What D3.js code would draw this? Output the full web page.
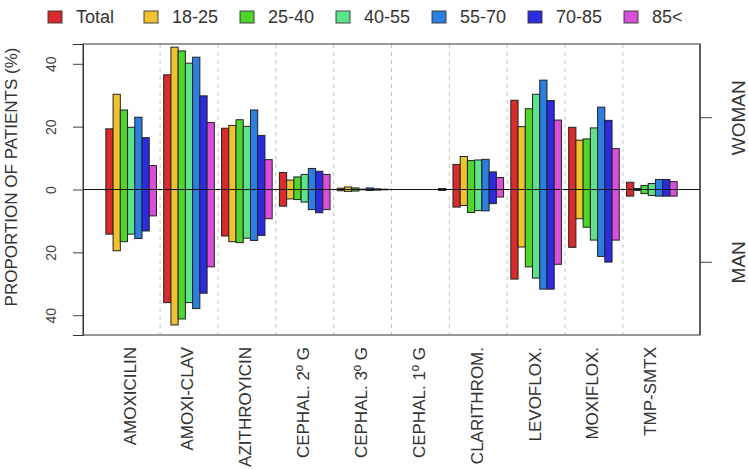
<!DOCTYPE html>
<html>
<head>
<meta charset="utf-8">
<script src="https://cdn.jsdelivr.net/npm/d3@7"></script>
<style>
  body { margin: 0; background: #fff; }
  svg { display: block; font-family: "Liberation Sans", Arial, sans-serif; }
</style>
</head>
<body>
<svg id="chart" width="748" height="470"></svg>
<script>
// ---- data ----
const drugs = ["AMOXICILIN", "AMOXI-CLAV", "AZITHROYICIN", "CEPHAL. 2º G", "CEPHAL. 3º G",
               "CEPHAL. 1º G", "CLARITHROM.", "LEVOFLOX.", "MOXIFLOX.", "TMP-SMTX"];
const ageGroups = ["Total", "18-25", "25-40", "40-55", "55-70", "70-85", "85<"];
const colors = ["#d92b2b", "#f2c12e", "#4fd62b", "#5ce38c", "#2b7fe0", "#2b2be0", "#d94fd9"];

// women (upper half), one array per age group, values per drug
const womanTotal = [19.3, 36.5, 19.5, 5.4, 0.4, 0, 8.0, 28.4, 19.8, 2.3];
const woman1825  = [30.3, 45.3, 20.4, 3.0, 0.8, 0, 10.5, 20.0, 15.7, 0.3];
const woman2540  = [25.3, 44.1, 22.2, 4.0, 0.5, 0, 9.2, 25.7, 16.1, 1.3];
const woman4055  = [19.8, 40.2, 20.1, 4.8, 0.1, 0, 9.4, 30.3, 19.6, 1.9];
const woman5570  = [23.0, 42.1, 25.3, 6.7, 0.5, 0, 9.6, 34.8, 26.2, 3.2];
const woman7085  = [16.5, 29.8, 17.2, 5.8, 0.2, 0, 5.6, 28.3, 22.0, 3.2];
const woman85    = [7.6, 21.3, 9.5, 4.8, 0.1, 0.3, 3.8, 22.1, 13.0, 2.5];
// men (lower half)
const manTotal = [14.2, 36.0, 14.8, 5.3, 0.4, 0, 5.6, 28.5, 18.4, 2.1];
const man1825  = [19.5, 43.1, 16.6, 3.0, 0.6, 0, 5.1, 18.3, 9.3, 0.3];
const man2540  = [16.6, 41.2, 16.9, 3.2, 0.5, 0, 7.3, 24.6, 12.0, 1.3];
const man4055  = [14.2, 36.0, 15.5, 4.0, 0.1, 0, 6.7, 28.2, 16.1, 1.9];
const man5570  = [15.6, 37.9, 16.2, 6.4, 0.3, 0, 6.8, 31.7, 21.3, 2.1];
const man7085  = [13.2, 33.0, 14.6, 7.4, 0.2, 0, 4.5, 31.7, 23.1, 2.1];
const man85    = [8.4, 24.6, 9.3, 6.4, 0.1, 0.3, 2.4, 23.8, 16.1, 2.1];

const yTicks = [-40, -20, 0, 20, 40];
const sideTicks = [23, -23];
const sideLabels = ["WOMAN", "MAN"];

const womanSeries = [womanTotal, woman1825, woman2540, woman4055, woman5570, woman7085, woman85];
const manSeries = [manTotal, man1825, man2540, man4055, man5570, man7085, man85];

// ---- layout ----
const svg = d3.select("#chart");
const L = 83, R = 700, T = 44, B = 335;
const nGroups = drugs.length, nBars = ageGroups.length;
const total = nGroups * (nBars + 1); // units incl. one space per group
const ext = (total - 1) * 0.04;
const x = d3.scaleLinear().domain([1 - ext, total + ext]).range([L, R]);
const y = d3.scaleLinear().domain([-46.3, 46.3]).range([B, T]);
function g0(g) { return g * (nBars + 1); }

// group separators
const seps = d3.range(nGroups - 1).map(g => (g + 1) * (nBars + 1) + 0.5);
svg.append("g").selectAll("line").data(seps).join("line")
  .attr("x1", d => x(d)).attr("x2", d => x(d))
  .attr("y1", T).attr("y2", B)
  .attr("stroke", "#c4c4c4").attr("stroke-width", 1).attr("stroke-dasharray", "4,4");

// bars
const barData = [];
womanSeries.forEach((arr, a) => arr.forEach((v, g) => barData.push({g, a, v, sign: 1})));
manSeries.forEach((arr, a) => arr.forEach((v, g) => barData.push({g, a, v, sign: -1})));
svg.append("g").selectAll("rect").data(barData.filter(d => d.v > 0)).join("rect")
  .attr("x", d => x(1 + g0(d.g) + d.a))
  .attr("width", d => x(2) - x(1))
  .attr("y", d => d.sign > 0 ? y(d.v) : y(0))
  .attr("height", d => Math.abs(y(d.v) - y(0)))
  .attr("fill", d => colors[d.a])
  .attr("stroke", "#222").attr("stroke-width", 1);

// zero line
svg.append("line").attr("x1", L).attr("x2", R).attr("y1", y(0)).attr("y2", y(0))
  .attr("stroke", "#111").attr("stroke-width", 1.2);

// box
svg.append("rect").attr("x", L).attr("y", T).attr("width", R - L).attr("height", B - T)
  .attr("fill", "none").attr("stroke", "#555").attr("stroke-width", 1.2);

// left axis
const yAxis = svg.append("g").attr("transform", `translate(${L},0)`)
  .call(d3.axisLeft(y).tickValues(yTicks).tickSize(10).tickFormat(d => Math.abs(d)));
yAxis.select(".domain").attr("stroke", "#333");
yAxis.selectAll(".tick line").attr("stroke", "#444");
yAxis.selectAll(".tick text")
  .attr("x", null).attr("dy", null)
  .attr("transform", "translate(-27,0) rotate(-90)")
  .attr("text-anchor", "middle")
  .attr("font-size", 14).attr("fill", "#444")
  .attr("font-family", "'Liberation Sans', Arial, sans-serif");

// right axis
const rAxis = svg.append("g").attr("transform", `translate(${R},0)`)
  .call(d3.axisRight(y).tickValues(sideTicks).tickSize(12).tickFormat((d, i) => sideLabels[i]));
rAxis.select(".domain").remove();
rAxis.append("line").attr("x1", 0).attr("x2", 0).attr("y1", T).attr("y2", B).attr("stroke", "#222");
rAxis.selectAll(".tick line").attr("stroke", "#444");
rAxis.selectAll(".tick text")
  .attr("x", null).attr("dy", null)
  .attr("transform", "translate(45,0) rotate(-90)")
  .attr("text-anchor", "middle")
  .attr("font-size", 19).attr("fill", "#333")
  .attr("font-family", "'Liberation Sans', Arial, sans-serif");

// bottom labels
const centers = d3.range(nGroups).map(g => 1 + g0(g) + nBars / 2);
const xAxis = svg.append("g").attr("transform", `translate(0,${B})`)
  .call(d3.axisBottom(x).tickValues(centers).tickSize(0).tickFormat((d, i) => drugs[i]));
xAxis.select(".domain").remove();
xAxis.selectAll(".tick text")
  .attr("y", null).attr("dy", "0.35em")
  .attr("transform", "translate(-2,12) rotate(-90)")
  .attr("text-anchor", "end")
  .attr("font-size", 17).attr("fill", "#333")
  .attr("font-family", "'Liberation Sans', Arial, sans-serif");

// y title
svg.append("text")
  .attr("transform", "translate(17,177) rotate(-90)")
  .attr("text-anchor", "middle")
  .attr("font-size", 17).attr("fill", "#333")
  .text("PROPORTION OF PATIENTS (%)");

// legend
const leg = svg.append("g").selectAll("g").data(ageGroups).join("g")
  .attr("transform", (d, i) => `translate(${48 + i * 96},17)`);
leg.append("rect").attr("x", 0).attr("y", -6).attr("width", 14).attr("height", 12)
  .attr("fill", (d, i) => colors[i]).attr("stroke", "#333").attr("stroke-width", 0.9);
leg.append("text").attr("x", 28).attr("y", 0).attr("dy", "0.35em")
  .attr("font-size", 18).attr("fill", "#333").text(d => d);
</script>
</body>
</html>
